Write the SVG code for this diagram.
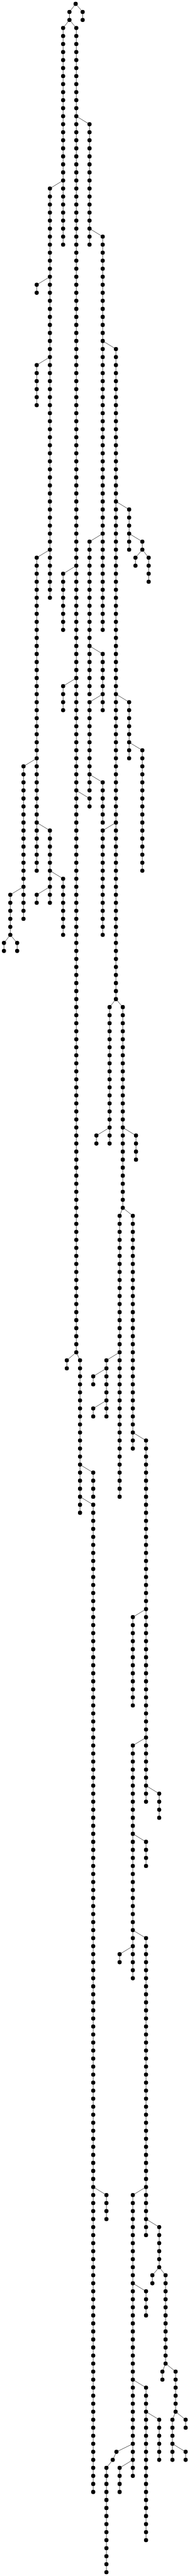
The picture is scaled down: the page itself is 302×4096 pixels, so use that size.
<svg xmlns="http://www.w3.org/2000/svg" width="302" height="4096" viewBox="0 0 302 4096">
<style>
.e path{stroke:#222;stroke-width:0.055;fill:none}
.n line{stroke:#000;stroke-width:0.518;stroke-linecap:round;stroke-dasharray:0 1;fill:none}
.n circle{fill:#000}
</style>
<rect width="302" height="4096" fill="#fff"/>
<g transform="translate(0,6.17) scale(12.762)">
<g id="connectors" class="e">
<path d="M10.295 1V2"/><path d="M8.650 1V2"/><path d="M7.861 3V30"/><path d="M9.505 3V168"/>
<path d="M11.150 15V30"/><path d="M6.216 23V74"/><path d="M4.572 35V36"/><path d="M4.572 45V50"/>
<path d="M12.794 29V78"/><path d="M14.439 43V124"/><path d="M4.572 69V108"/><path d="M7.861 71V78"/>
<path d="M11.150 67V86"/><path d="M16.083 63V68"/><path d="M17.728 67V68"/><path d="M16.873 69V70"/>
<path d="M18.517 69V72"/><path d="M2.927 95V114"/><path d="M6.216 103V112"/><path d="M7.861 85V88"/>
<path d="M11.150 99V100"/><path d="M12.794 81V88"/><path d="M11.150 87V98"/><path d="M12.794 97V102"/>
<path d="M16.083 87V94"/><path d="M17.728 93V108"/><path d="M12.794 103V116"/><path d="M1.283 111V116"/>
<path d="M0.493 117V118"/><path d="M2.138 117V118"/><path d="M7.861 109V116"/><path d="M4.572 111V112"/>
<path d="M13.649 125V142"/><path d="M15.294 125V150"/><path d="M12.005 141V142"/><path d="M16.938 141V144"/>
<path d="M14.899 151V186"/><path d="M16.544 151V180"/><path d="M8.321 169V170"/><path d="M9.966 169V188"/>
<path d="M11.610 183V186"/><path d="M13.255 169V176"/><path d="M11.610 171V172"/><path d="M11.610 175V176"/>
<path d="M18.188 179V224"/><path d="M11.610 187V310"/><path d="M16.544 201V212"/><path d="M16.544 217V246"/>
<path d="M19.833 223V226"/><path d="M18.188 229V232"/><path d="M18.188 241V278"/><path d="M14.899 243V244"/>
<path d="M13.255 273V276"/><path d="M16.544 273V308"/><path d="M19.833 277V282"/><path d="M18.978 283V284"/>
<path d="M20.622 283V294"/><path d="M18.188 285V288"/><path d="M20.227 295V296"/><path d="M21.872 295V300"/>
<path d="M23.122 301V302"/><path d="M21.477 301V306"/><path d="M23.122 305V306"/><path d="M18.188 297V316"/>
<path d="M19.833 301V306"/><path d="M13.255 307V320"/><path d="M14.899 307V310"/>
<path d="M9.423 0L8.650 1"/><path d="M9.423 0L10.295 1"/><path d="M8.650 2L7.861 3"/><path d="M8.650 2L9.505 3"/>
<path d="M7.861 22L6.216 23"/><path d="M9.505 14L11.150 15"/><path d="M6.216 34L4.572 35"/><path d="M6.216 44L4.572 45"/>
<path d="M11.150 28L12.794 29"/><path d="M12.794 42L14.439 43"/><path d="M6.216 68L4.572 69"/><path d="M9.505 70L7.861 71"/>
<path d="M12.794 66L11.150 67"/><path d="M14.439 62L16.083 63"/><path d="M16.083 66L17.728 67"/><path d="M17.728 68L16.873 69"/>
<path d="M17.728 68L18.517 69"/><path d="M4.572 94L2.927 95"/><path d="M4.572 102L6.216 103"/><path d="M9.505 84L7.861 85"/>
<path d="M9.505 98L11.150 99"/><path d="M11.150 80L12.794 81"/><path d="M12.794 86L11.150 87"/><path d="M11.150 96L12.794 97"/>
<path d="M14.439 86L16.083 87"/><path d="M14.439 102L12.794 103"/><path d="M16.083 92L17.728 93"/><path d="M2.927 110L1.283 111"/>
<path d="M6.216 108L7.861 109"/><path d="M6.216 110L4.572 111"/><path d="M1.283 116L0.493 117"/><path d="M1.283 116L2.138 117"/>
<path d="M14.439 124L13.649 125"/><path d="M14.439 124L15.294 125"/><path d="M13.649 140L12.005 141"/><path d="M15.294 140L16.938 141"/>
<path d="M15.294 150L14.899 151"/><path d="M15.294 150L16.544 151"/><path d="M9.505 168L8.321 169"/><path d="M9.505 168L9.966 169"/>
<path d="M9.966 182L11.610 183"/><path d="M14.899 168L13.255 169"/><path d="M13.255 170L11.610 171"/><path d="M13.255 174L11.610 175"/>
<path d="M16.544 178L18.188 179"/><path d="M9.966 186L11.610 187"/><path d="M18.188 200L16.544 201"/><path d="M18.188 216L16.544 217"/>
<path d="M18.188 222L19.833 223"/><path d="M16.544 228L18.188 229"/><path d="M16.544 240L18.188 241"/><path d="M16.544 242L14.899 243"/>
<path d="M11.610 272L13.255 273"/><path d="M18.188 272L16.544 273"/><path d="M18.188 276L19.833 277"/><path d="M19.833 282L18.978 283"/>
<path d="M19.833 282L20.622 283"/><path d="M16.544 284L18.188 285"/><path d="M20.622 294L20.227 295"/><path d="M20.622 294L21.872 295"/>
<path d="M21.872 300L21.477 301"/><path d="M21.872 300L23.122 301"/><path d="M21.477 304L23.122 305"/><path d="M16.544 296L18.188 297"/>
<path d="M16.544 304L14.504 305"/><path d="M14.504 305L14.044 306"/><path d="M14.044 306L13.255 307"/><path d="M16.544 306L14.899 307"/>
<path d="M18.188 300L19.833 301"/>
</g>
<g id="nodes" class="n">
<g id="nA"><circle cx="9.423" cy="0" r="0.259"/></g>
<g id="nB"><line x1="10.295" y1="1" x2="10.295" y2="2.01"/></g>
<g id="nC"><line x1="8.650" y1="1" x2="8.650" y2="2.01"/></g>
<g id="nD"><line x1="7.861" y1="3" x2="7.861" y2="30.01"/></g>
<g id="nE"><line x1="9.505" y1="3" x2="9.505" y2="168.01"/></g>
<g id="nF"><line x1="11.150" y1="15" x2="11.150" y2="30.01"/></g>
<g id="nG"><line x1="6.216" y1="23" x2="6.216" y2="74.01"/></g>
<g id="nH"><line x1="4.572" y1="35" x2="4.572" y2="36.01"/></g>
<g id="nI"><line x1="4.572" y1="45" x2="4.572" y2="50.01"/></g>
<g id="nJ"><line x1="12.794" y1="29" x2="12.794" y2="78.01"/></g>
<g id="nK"><line x1="14.439" y1="43" x2="14.439" y2="124.01"/></g>
<g id="nL"><line x1="4.572" y1="69" x2="4.572" y2="108.01"/></g>
<g id="nM"><line x1="7.861" y1="71" x2="7.861" y2="78.01"/></g>
<g id="nN"><line x1="11.150" y1="67" x2="11.150" y2="86.01"/></g>
<g id="nO"><line x1="16.083" y1="63" x2="16.083" y2="68.01"/></g>
<g id="nP"><line x1="17.728" y1="67" x2="17.728" y2="68.01"/></g>
<g id="nQ"><line x1="16.873" y1="69" x2="16.873" y2="70.01"/></g>
<g id="nR"><line x1="18.517" y1="69" x2="18.517" y2="72.01"/></g>
<g id="nS"><line x1="2.927" y1="95" x2="2.927" y2="114.01"/></g>
<g id="nT"><line x1="6.216" y1="103" x2="6.216" y2="112.01"/></g>
<g id="nU"><line x1="7.861" y1="85" x2="7.861" y2="88.01"/></g>
<g id="nV"><line x1="11.150" y1="99" x2="11.150" y2="100.01"/></g>
<g id="nW"><line x1="12.794" y1="81" x2="12.794" y2="88.01"/></g>
<g id="nX"><line x1="11.150" y1="87" x2="11.150" y2="98.01"/></g>
<g id="nY"><line x1="12.794" y1="97" x2="12.794" y2="102.01"/></g>
<g id="nZ"><line x1="16.083" y1="87" x2="16.083" y2="94.01"/></g>
<g id="nAA"><line x1="17.728" y1="93" x2="17.728" y2="108.01"/></g>
<g id="nAB"><line x1="12.794" y1="103" x2="12.794" y2="116.01"/></g>
<g id="nAC"><line x1="1.283" y1="111" x2="1.283" y2="116.01"/></g>
<g id="nAD"><line x1="0.493" y1="117" x2="0.493" y2="118.01"/></g>
<g id="nAE"><line x1="2.138" y1="117" x2="2.138" y2="118.01"/></g>
<g id="nAF"><line x1="7.861" y1="109" x2="7.861" y2="116.01"/></g>
<g id="nAG"><line x1="4.572" y1="111" x2="4.572" y2="112.01"/></g>
<g id="nAH"><line x1="13.649" y1="125" x2="13.649" y2="142.01"/></g>
<g id="nAI"><line x1="15.294" y1="125" x2="15.294" y2="150.01"/></g>
<g id="nAJ"><line x1="12.005" y1="141" x2="12.005" y2="142.01"/></g>
<g id="nAK"><line x1="16.938" y1="141" x2="16.938" y2="144.01"/></g>
<g id="nAL"><line x1="14.899" y1="151" x2="14.899" y2="186.01"/></g>
<g id="nAM"><line x1="16.544" y1="151" x2="16.544" y2="180.01"/></g>
<g id="nAN"><line x1="8.321" y1="169" x2="8.321" y2="170.01"/></g>
<g id="nAO"><line x1="9.966" y1="169" x2="9.966" y2="188.01"/></g>
<g id="nAP"><line x1="11.610" y1="183" x2="11.610" y2="186.01"/></g>
<g id="nAQ"><line x1="13.255" y1="169" x2="13.255" y2="176.01"/></g>
<g id="nAR"><line x1="11.610" y1="171" x2="11.610" y2="172.01"/></g>
<g id="nAS"><line x1="11.610" y1="175" x2="11.610" y2="176.01"/></g>
<g id="nAT"><line x1="18.188" y1="179" x2="18.188" y2="224.01"/></g>
<g id="nAU"><line x1="11.610" y1="187" x2="11.610" y2="310.01"/></g>
<g id="nAV"><line x1="16.544" y1="201" x2="16.544" y2="212.01"/></g>
<g id="nAW"><line x1="16.544" y1="217" x2="16.544" y2="246.01"/></g>
<g id="nAX"><line x1="19.833" y1="223" x2="19.833" y2="226.01"/></g>
<g id="nAY"><line x1="18.188" y1="229" x2="18.188" y2="232.01"/></g>
<g id="nAZ"><line x1="18.188" y1="241" x2="18.188" y2="278.01"/></g>
<g id="nBA"><line x1="14.899" y1="243" x2="14.899" y2="244.01"/></g>
<g id="nBB"><line x1="13.255" y1="273" x2="13.255" y2="276.01"/></g>
<g id="nBC"><line x1="16.544" y1="273" x2="16.544" y2="308.01"/></g>
<g id="nBD"><line x1="19.833" y1="277" x2="19.833" y2="282.01"/></g>
<g id="nBE"><line x1="18.978" y1="283" x2="18.978" y2="284.01"/></g>
<g id="nBF"><line x1="20.622" y1="283" x2="20.622" y2="294.01"/></g>
<g id="nBG"><line x1="18.188" y1="285" x2="18.188" y2="288.01"/></g>
<g id="nBH"><line x1="20.227" y1="295" x2="20.227" y2="296.01"/></g>
<g id="nBI"><line x1="21.872" y1="295" x2="21.872" y2="300.01"/></g>
<g id="nBJ"><line x1="23.122" y1="301" x2="23.122" y2="302.01"/></g>
<g id="nBK"><line x1="21.477" y1="301" x2="21.477" y2="306.01"/></g>
<g id="nBL"><line x1="23.122" y1="305" x2="23.122" y2="306.01"/></g>
<g id="nBM"><line x1="18.188" y1="297" x2="18.188" y2="316.01"/></g>
<g id="nBN"><line x1="19.833" y1="301" x2="19.833" y2="306.01"/></g>
<g id="nBO"><circle cx="14.504" cy="305" r="0.259"/></g>
<g id="nBP"><circle cx="14.044" cy="306" r="0.259"/></g>
<g id="nBQ"><line x1="13.255" y1="307" x2="13.255" y2="320.01"/></g>
<g id="nBR"><line x1="14.899" y1="307" x2="14.899" y2="310.01"/></g>
</g>
</g>
</svg>
